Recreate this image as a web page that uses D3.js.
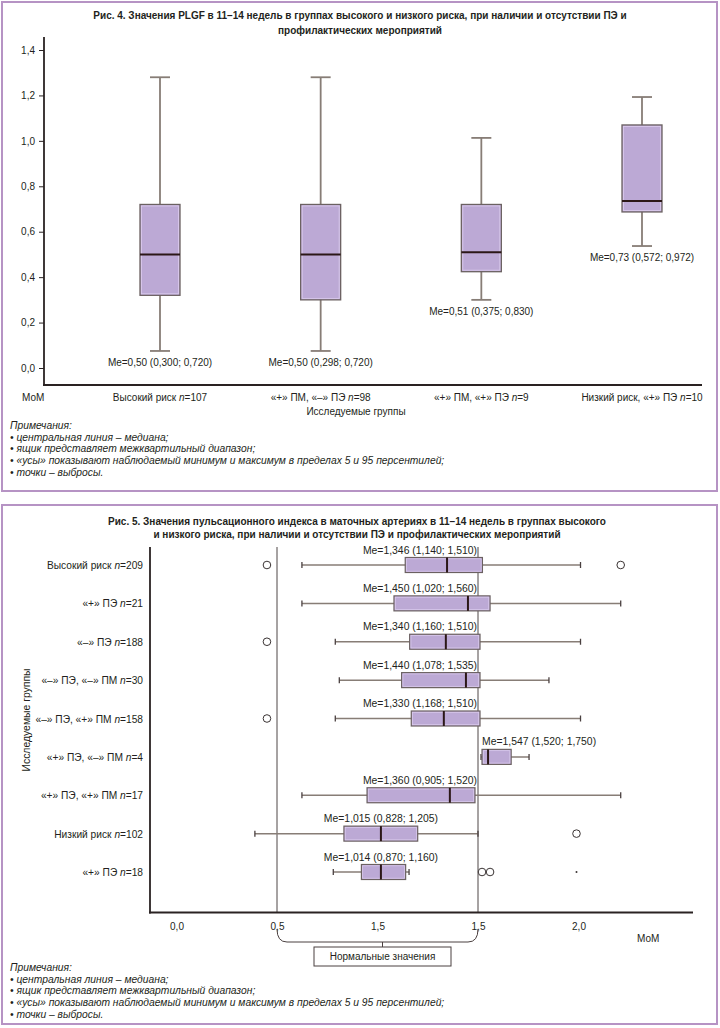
<!DOCTYPE html>
<html>
<head>
<meta charset="utf-8">
<script src="https://cdn.jsdelivr.net/npm/d3@7"></script>
<style>
  body { margin: 0; background: #fff; }
  svg { display: block; }
  text { font-family: 'Liberation Sans', Arial, sans-serif; fill: #231f20; }
</style>
</head>
<body>
<svg id="chart" width="720" height="1028"></svg>
<script>
// ---- Рис. 4: PLGF ----
var plgfNames = ["Высокий риск", "«+» ПМ, «–» ПЭ", "«+» ПМ, «+» ПЭ", "Низкий риск, «+» ПЭ"];
var plgfN = [107, 98, 9, 10];
var plgfLow = [0.075, 0.075, 0.30, 0.537];
var plgfQ1 = [0.32, 0.30, 0.424, 0.687];
var plgfMed = [0.50, 0.50, 0.51, 0.735];
var plgfQ3 = [0.72, 0.72, 0.72, 1.07];
var plgfHigh = [1.28, 1.28, 1.013, 1.193];
var plgfNotes = ["Me=0,50 (0,300; 0,720)", "Me=0,50 (0,298; 0,720)", "Me=0,51 (0,375; 0,830)", "Me=0,73 (0,572; 0,972)"];
var plgfTicks = [0, 0.2, 0.4, 0.6, 0.8, 1.0, 1.2, 1.4];

// ---- Рис. 5: пульсационный индекс ----
var piNames = ["Высокий риск", "«+» ПЭ", "«–» ПЭ", "«–» ПЭ, «–» ПМ", "«–» ПЭ, «+» ПМ",
               "«+» ПЭ, «–» ПМ", "«+» ПЭ, «+» ПМ", "Низкий риск", "«+» ПЭ"];
var piN = [209, 21, 188, 30, 158, 4, 17, 102, 18];
var piLow = [0.624, 0.624, 0.79, 0.81, 0.79, 1.515, 0.624, 0.39, 0.78];
var piQ1 = [1.138, 1.082, 1.16, 1.12, 1.168, 1.52, 0.948, 0.833, 0.92];
var piMed = [1.346, 1.45, 1.34, 1.44, 1.33, 1.55, 1.36, 1.017, 1.017];
var piQ3 = [1.522, 1.56, 1.51, 1.51, 1.51, 1.665, 1.485, 1.20, 1.14];
var piHigh = [2.01, 2.21, 2.01, 1.853, 2.01, 1.754, 2.21, 1.50, 1.157];
var piOutliers = [[0.45, 2.21], [], [0.45], [], [0.45], [], [], [1.99], [1.52, 1.56]];
var piExtremes = [[], [], [], [], [], [], [], [], [1.99]];
var piNotes = ["Me=1,346 (1,140; 1,510)", "Me=1,450 (1,020; 1,560)", "Me=1,340 (1,160; 1,510)",
               "Me=1,440 (1,078; 1,535)", "Me=1,330 (1,168; 1,510)", "Me=1,547 (1,520; 1,750)",
               "Me=1,360 (0,905; 1,520)", "Me=1,015 (0,828; 1,205)", "Me=1,014 (0,870; 1,160)"];
var piTicks = [0, 0.5, 1.0, 1.5, 2.0];
var piTickLabels = ["0,0", "0,5", "1,5", "1,5", "2,0"];
var normalRange = [0.5, 1.5];

var notes = ["Примечания:",
             "• центральная линия – медиана;",
             "• ящик представляет межквартильный диапазон;",
             "• «усы» показывают наблюдаемый минимум и максимум в пределах 5 и 95 персентилей;",
             "• точки – выбросы."];

var BORDER = "#b693c4", FILL = "#bca9d5", EDGE = "#6b6161", INNER = "#dccdee",
    WHISK = "#877d76", MED = "#2b1717", AXIS = "#2a2222";

var svg = d3.select("#chart");
var fmt = function(v){ return d3.format(".1f")(v).replace(".", ","); };

function groupLabel(sel, name, n){
    sel.append("tspan").text(name + " ");
    sel.append("tspan").attr("font-style", "italic").text("n");
    sel.append("tspan").text("=" + n);
}

function drawNotes(y0){
    svg.append("g").selectAll("text").data(notes).enter().append("text")
        .attr("x", 10).attr("y", function(d, i){ return y0 + i * 11.7; })
        .attr("font-size", 10.3).attr("font-style", "italic")
        .text(function(d){ return d; });
}

// panels
svg.append("rect").attr("x", 2).attr("y", 2).attr("width", 715).attr("height", 489)
    .attr("fill", "none").attr("stroke", BORDER).attr("stroke-width", 2);
svg.append("rect").attr("x", 2).attr("y", 505).attr("width", 715).attr("height", 519)
    .attr("fill", "none").attr("stroke", BORDER).attr("stroke-width", 2);

// ================= Рис. 4 =================
var top4 = svg.append("g");
top4.append("text").attr("x", 360).attr("y", 19).attr("text-anchor", "middle")
    .attr("font-size", 10).attr("font-weight", "bold")
    .text("Рис. 4. Значения PLGF в 11–14 недель в группах высокого и низкого риска, при наличии и отсутствии ПЭ и");
top4.append("text").attr("x", 360).attr("y", 34).attr("text-anchor", "middle")
    .attr("font-size", 10).attr("font-weight", "bold")
    .text("профилактических мероприятий");

var y4 = d3.scaleLinear().domain([0, 1.4]).range([368, 50]);
var x4 = d3.scalePoint().domain(d3.range(plgfNames.length)).range([160, 642]);
var bw = 40, axisY4 = 385;

var yAxis = top4.append("g").attr("transform", "translate(44,0)")
    .call(d3.axisLeft(y4).tickValues(plgfTicks).tickSize(5).tickPadding(4).tickFormat(fmt));
yAxis.select(".domain").remove();
yAxis.selectAll("line").attr("stroke", AXIS);
yAxis.selectAll("text").attr("font-size", 10).attr("fill", "#231f20")
    .attr("font-family", "'Liberation Sans', Arial, sans-serif");
top4.append("line").attr("x1", 44).attr("x2", 44).attr("y1", 37).attr("y2", axisY4 + 1)
    .attr("stroke", AXIS).attr("stroke-width", 1.8);
top4.append("line").attr("x1", 43).attr("x2", 702).attr("y1", axisY4).attr("y2", axisY4)
    .attr("stroke", AXIS).attr("stroke-width", 1.8);

var boxes4 = top4.selectAll("g.box").data(d3.range(plgfNames.length)).enter()
    .append("g").attr("class", "box");
boxes4.each(function(i){
    var g = d3.select(this), cx = x4(i);
    g.append("line").attr("x1", cx).attr("x2", cx).attr("y1", y4(plgfHigh[i])).attr("y2", y4(plgfLow[i]))
        .attr("stroke", WHISK).attr("stroke-width", 1.8);
    [plgfHigh[i], plgfLow[i]].forEach(function(v){
        g.append("line").attr("x1", cx - 10).attr("x2", cx + 10).attr("y1", y4(v)).attr("y2", y4(v))
            .attr("stroke", WHISK).attr("stroke-width", 1.8);
    });
    g.append("rect").attr("x", cx - bw / 2).attr("y", y4(plgfQ3[i]))
        .attr("width", bw).attr("height", y4(plgfQ1[i]) - y4(plgfQ3[i]))
        .attr("fill", FILL).attr("stroke", EDGE).attr("stroke-width", 1.3);
    g.append("rect").attr("x", cx - bw / 2 + 1.5).attr("y", y4(plgfQ3[i]) + 1.5)
        .attr("width", bw - 3).attr("height", y4(plgfQ1[i]) - y4(plgfQ3[i]) - 3)
        .attr("fill", "none").attr("stroke", INNER).attr("stroke-width", 0.8);
    g.append("line").attr("x1", cx - bw / 2).attr("x2", cx + bw / 2)
        .attr("y1", y4(plgfMed[i])).attr("y2", y4(plgfMed[i]))
        .attr("stroke", MED).attr("stroke-width", 2);
    g.append("text").attr("x", cx).attr("y", y4(plgfLow[i]) + 15).attr("text-anchor", "middle")
        .attr("font-size", 10).text(plgfNotes[i]);
    g.append("text").attr("x", cx).attr("y", 401).attr("text-anchor", "middle")
        .attr("font-size", 10).call(groupLabel, plgfNames[i], plgfN[i]);
});
top4.append("text").attr("x", 22).attr("y", 401).attr("font-size", 10).text("МоМ");
top4.append("text").attr("x", 356).attr("y", 415).attr("text-anchor", "middle")
    .attr("font-size", 10).text("Исследуемые группы");
drawNotes(429);

// ================= Рис. 5 =================
var bot5 = svg.append("g");
bot5.append("text").attr("x", 357).attr("y", 525).attr("text-anchor", "middle")
    .attr("font-size", 10).attr("font-weight", "bold")
    .text("Рис. 5. Значения пульсационного индекса в маточных артериях в 11–14 недель в группах высокого");
bot5.append("text").attr("x", 357).attr("y", 538).attr("text-anchor", "middle")
    .attr("font-size", 10).attr("font-weight", "bold")
    .text("и низкого риска, при наличии и отсутствии ПЭ и профилактических мероприятий");

var x5 = d3.scaleLinear().domain([0, 2]).range([176.5, 578.5]);
var y5 = d3.scalePoint().domain(d3.range(piNames.length)).range([565, 872]);
var bh = 15, plotTop = 547, plotBottom = 912.5;

// reference lines for normal range
normalRange.forEach(function(v){
    bot5.append("line").attr("x1", x5(v)).attr("x2", x5(v)).attr("y1", plotTop).attr("y2", plotBottom)
        .attr("stroke", "#4f4646").attr("stroke-width", 1);
});

var xAxis = bot5.append("g").attr("transform", "translate(0," + plotBottom + ")")
    .call(d3.axisBottom(x5).tickValues(piTicks).tickSize(0).tickPadding(10)
        .tickFormat(function(d, i){ return piTickLabels[i]; }));
xAxis.select(".domain").remove();
xAxis.selectAll("text").attr("font-size", 10).attr("fill", "#231f20")
    .attr("font-family", "'Liberation Sans', Arial, sans-serif");
bot5.append("line").attr("x1", 150).attr("x2", 150).attr("y1", plotTop).attr("y2", plotBottom + 1)
    .attr("stroke", AXIS).attr("stroke-width", 1.8);
bot5.append("line").attr("x1", 149).attr("x2", 693).attr("y1", plotBottom).attr("y2", plotBottom)
    .attr("stroke", AXIS).attr("stroke-width", 1.8);

var boxes5 = bot5.selectAll("g.hbox").data(d3.range(piNames.length)).enter()
    .append("g").attr("class", "hbox");
boxes5.each(function(i){
    var g = d3.select(this), cy = y5(i);
    g.append("line").attr("x1", x5(piLow[i])).attr("x2", x5(piHigh[i])).attr("y1", cy).attr("y2", cy)
        .attr("stroke", WHISK).attr("stroke-width", 1.5);
    [piLow[i], piHigh[i]].forEach(function(v){
        g.append("line").attr("x1", x5(v)).attr("x2", x5(v)).attr("y1", cy - 3).attr("y2", cy + 3)
            .attr("stroke", "#4a4040").attr("stroke-width", 1.3);
    });
    g.append("rect").attr("x", x5(piQ1[i])).attr("y", cy - bh / 2)
        .attr("width", x5(piQ3[i]) - x5(piQ1[i])).attr("height", bh)
        .attr("fill", FILL).attr("stroke", EDGE).attr("stroke-width", 1.2);
    g.append("rect").attr("x", x5(piQ1[i]) + 1.3).attr("y", cy - bh / 2 + 1.3)
        .attr("width", x5(piQ3[i]) - x5(piQ1[i]) - 2.6).attr("height", bh - 2.6)
        .attr("fill", "none").attr("stroke", INNER).attr("stroke-width", 0.7);
    g.append("line").attr("x1", x5(piMed[i])).attr("x2", x5(piMed[i]))
        .attr("y1", cy - bh / 2).attr("y2", cy + bh / 2)
        .attr("stroke", MED).attr("stroke-width", 2);
    piOutliers[i].forEach(function(v){
        g.append("circle").attr("cx", x5(v)).attr("cy", cy).attr("r", 3.8)
            .attr("fill", "#fff").attr("stroke", "#3a3333").attr("stroke-width", 1);
    });
    piExtremes[i].forEach(function(v){
        g.append("circle").attr("cx", x5(v)).attr("cy", cy).attr("r", 1)
            .attr("fill", "#3a3333");
    });
    // median label: right-aligned to the upper normal line, or after it, or over the median
    var lx, anchor;
    if (piQ1[i] >= normalRange[1]) { lx = x5(normalRange[1]) + 4; anchor = "start"; }
    else if (piQ3[i] < 1.3) { lx = x5(piMed[i]); anchor = "middle"; }
    else { lx = x5(normalRange[1]) - 1; anchor = "end"; }
    g.append("text").attr("x", lx).attr("y", cy - bh / 2 - 4).attr("text-anchor", anchor)
        .attr("font-size", 10.4).text(piNotes[i]);
    g.append("text").attr("x", 143).attr("y", cy + 4).attr("text-anchor", "end")
        .attr("font-size", 10.2).call(groupLabel, piNames[i], piN[i]);
});

bot5.append("text").attr("transform", "translate(30,720) rotate(-90)").attr("text-anchor", "middle")
    .attr("font-size", 10.4).text("Исследуемые группы");
bot5.append("text").attr("x", 637).attr("y", 942).attr("font-size", 10).text("МоМ");

// brace for normal values
var xa = x5(normalRange[0]), xb = x5(normalRange[1]), xm = (xa + xb) / 2 + 5, by = 942;
bot5.append("path")
    .attr("d", "M" + xa + ",929 Q" + xa + "," + by + " " + (xa + 10) + "," + by +
               " L" + (xb - 10) + "," + by + " Q" + xb + "," + by + " " + xb + ",929" +
               " M" + xm + "," + by + " L" + xm + ",947")
    .attr("fill", "none").attr("stroke", "#4a4040").attr("stroke-width", 1);
bot5.append("rect").attr("x", xm - 68.5).attr("y", 947).attr("width", 137).attr("height", 19)
    .attr("fill", "#fff").attr("stroke", "#4a4040").attr("stroke-width", 1);
bot5.append("text").attr("x", xm).attr("y", 960).attr("text-anchor", "middle")
    .attr("font-size", 10).text("Нормальные значения");

drawNotes(971);
</script>
</body>
</html>
